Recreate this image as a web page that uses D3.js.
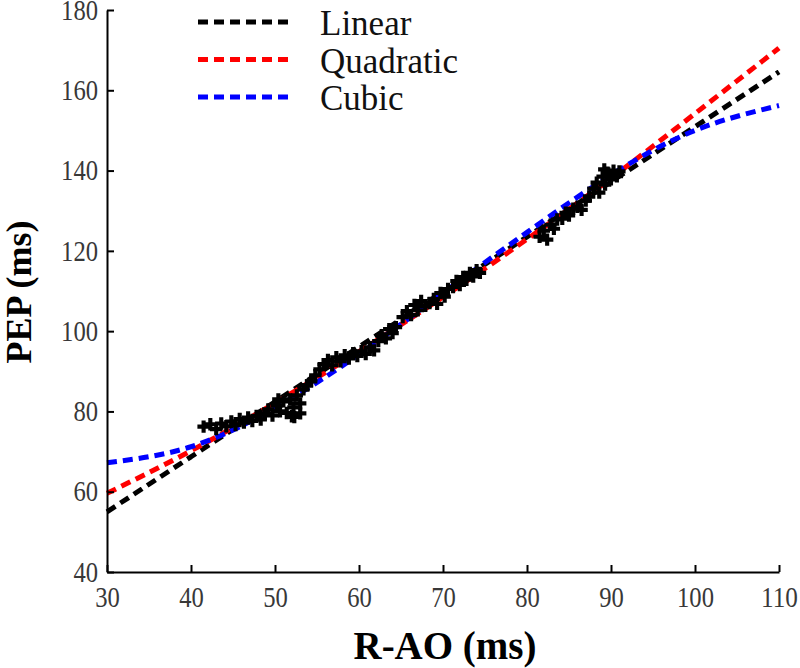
<!DOCTYPE html>
<html lang="en">
<head>
  <meta charset="UTF-8">
  <title>PEP vs R-AO</title>
  <script src="https://d3js.org/d3.v7.min.js"></script>
  <style>
    body { margin: 0; background: #fff; }
    text { font-family: "Liberation Serif", "Times New Roman", serif; }
  </style>
</head>
<body>
  <script>

    // fitted curves, read at every 10 ms of R-AO
    var fitX = [30, 40, 50, 60, 70, 80, 90, 100, 110];
    var linearY = [55.0, 68.7, 82.4, 96.1, 109.8, 123.5, 137.2, 150.9, 164.6];
    var quadraticY = [59.6, 70.2, 82.1, 94.9, 108.5, 122.9, 138.1, 154.2, 170.5];
    var cubicY = [67.2, 71.2, 80.9, 94.2, 109.5, 124.6, 138.9, 150.0, 156.2];

    // measured beats (R-AO, PEP)
    var beats = [
      [41.5, 76.2], [42.3, 76.8], [43.0, 75.6], [43.6, 77.0], [44.2, 76.3], [44.8, 77.5], [45.3, 76.6],
      [45.8, 78.1], [46.3, 77.2], [46.8, 78.5], [47.3, 77.6], [47.8, 78.9], [48.3, 78.0], [48.8, 79.4],
      [49.2, 80.5], [49.7, 79.0], [50.2, 81.5], [50.6, 80.0], [51.0, 82.5], [51.4, 79.6], [51.8, 83.0],
      [52.2, 81.0], [52.6, 84.0], [53.0, 82.0], [53.4, 85.5], [52.0, 78.8], [53.8, 86.5], [50.4, 83.0],
      [53.0, 79.5], [52.3, 78.6],
      [54.3, 87.5], [54.8, 89.0], [55.3, 90.5], [55.8, 91.8], [56.3, 92.8], [56.8, 91.5], [57.3, 93.5],
      [57.8, 92.5], [58.3, 94.0],
      [58.8, 93.2], [59.3, 94.5], [59.8, 93.8], [60.3, 95.0], [60.8, 94.3], [61.3, 96.0], [61.8, 95.2],
      [62.3, 97.5], [62.7, 99.0], [63.2, 98.2], [63.6, 100.5], [64.0, 99.5], [64.4, 101.0],
      [65.2, 103.5], [65.7, 105.0], [66.2, 104.0], [66.6, 106.5], [67.0, 105.2], [67.4, 107.5], [67.9, 106.3],
      [68.4, 107.0], [68.9, 108.0], [69.3, 106.8], [69.7, 109.5], [70.2, 108.6], [70.6, 110.5],
      [71.2, 111.0], [71.6, 112.5], [72.0, 111.5], [72.4, 113.5], [72.8, 112.8], [73.2, 114.5], [73.6, 113.6],
      [74.0, 115.2], [74.4, 114.5],
      [81.5, 123.5], [82.0, 125.0], [82.4, 122.8], [82.8, 126.5], [83.2, 125.5], [83.6, 127.8],
      [84.2, 128.0], [84.6, 129.5], [85.0, 128.8], [85.5, 130.5], [86.0, 131.0], [86.5, 130.2], [87.0, 132.5],
      [87.4, 133.5],
      [87.9, 135.5], [88.3, 137.0], [88.6, 134.5], [89.0, 138.5], [89.3, 136.5], [89.6, 139.5], [90.0, 137.8],
      [90.3, 140.0], [90.7, 138.6], [91.0, 139.8], [89.2, 140.3]
    ];

    var xTicks = [30, 40, 50, 60, 70, 80, 90, 100, 110];
    var yTicks = [40, 60, 80, 100, 120, 140, 160, 180];

    var seriesNames = ["Linear", "Quadratic", "Cubic"];
    var seriesColors = ["#000000", "#ff0000", "#0000ff"];
    var seriesValues = [linearY, quadraticY, cubicY];

    var width = 800, height = 668;
    var plotLeft = 107, plotRight = 779, plotTop = 10, plotBottom = 572;

    var x = d3.scaleLinear().domain([30, 110]).range([plotLeft, plotRight]);
    var y = d3.scaleLinear().domain([40, 180]).range([plotBottom, plotTop]);

    var svg = d3.select("body").append("svg")
      .attr("width", width)
      .attr("height", height);

    // fitted lines
    var line = d3.line()
      .x(function (d) { return x(d[0]); })
      .y(function (d) { return y(d[1]); })
      .curve(d3.curveNatural);

    seriesValues.forEach(function (vals, i) {
      svg.append("path")
        .datum(fitX.map(function (v, j) { return [v, vals[j]]; }))
        .attr("fill", "none")
        .attr("stroke", seriesColors[i])
        .attr("stroke-width", 5)
        .attr("stroke-dasharray", "10,6")
        .attr("d", line);
    });

    // scatter of beats
    svg.append("g")
      .selectAll("path")
      .data(beats)
      .enter()
      .append("path")
      .attr("transform", function (d) { return "translate(" + x(d[0]) + "," + y(d[1]) + ")"; })
      .attr("d", d3.symbol().type(d3.symbolCross).size(85))
      .attr("fill", "#000");

    // axes
    var xAxis = svg.append("g")
      .attr("transform", "translate(0," + plotBottom + ")")
      .call(d3.axisBottom(x).tickValues(xTicks).tickSizeInner(-7).tickSizeOuter(0).tickPadding(14));

    var yAxis = svg.append("g")
      .attr("transform", "translate(" + plotLeft + ",0)")
      .call(d3.axisLeft(y).tickValues(yTicks).tickSizeInner(-7).tickSizeOuter(0).tickPadding(9));

    [xAxis, yAxis].forEach(function (g) {
      g.select(".domain").attr("stroke", "#000").attr("stroke-width", 2);
      g.selectAll(".tick line").attr("stroke", "#000").attr("stroke-width", 2);
      g.selectAll(".tick text")
        .attr("fill", "#383838")
        .style("font-size", "29px")
        .style("font-family", "'Liberation Serif', 'Times New Roman', serif")
        // the source figure's digits are narrow and tall
        .attr("textLength", function (d) { return String(d).length * 12.3; })
        .attr("lengthAdjust", "spacingAndGlyphs");
    });

    // axis titles
    svg.append("text")
      .attr("x", 445)
      .attr("y", 659)
      .attr("text-anchor", "middle")
      .style("font-size", "39px")
      .style("font-weight", "bold")
      .text("R-AO (ms)");

    svg.append("text")
      .attr("transform", "translate(31,292) rotate(-90)")
      .attr("text-anchor", "middle")
      .style("font-size", "36px")
      .style("font-weight", "bold")
      .text("PEP (ms)");

    // legend
    var legend = svg.selectAll(".legend")
      .data(seriesNames)
      .enter()
      .append("g")
      .attr("class", "legend")
      .attr("transform", function (d, i) { return "translate(0," + (22 + i * 37.5) + ")"; });

    legend.append("line")
      .attr("x1", 198)
      .attr("x2", 293)
      .attr("stroke", function (d, i) { return seriesColors[i]; })
      .attr("stroke-width", 5)
      .attr("stroke-dasharray", "10,6");

    legend.append("text")
      .attr("x", 320)
      .attr("y", 13)
      .style("font-size", "35px")
      .attr("fill", "#111")
      .text(function (d) { return d; });

  </script>
</body>
</html>
